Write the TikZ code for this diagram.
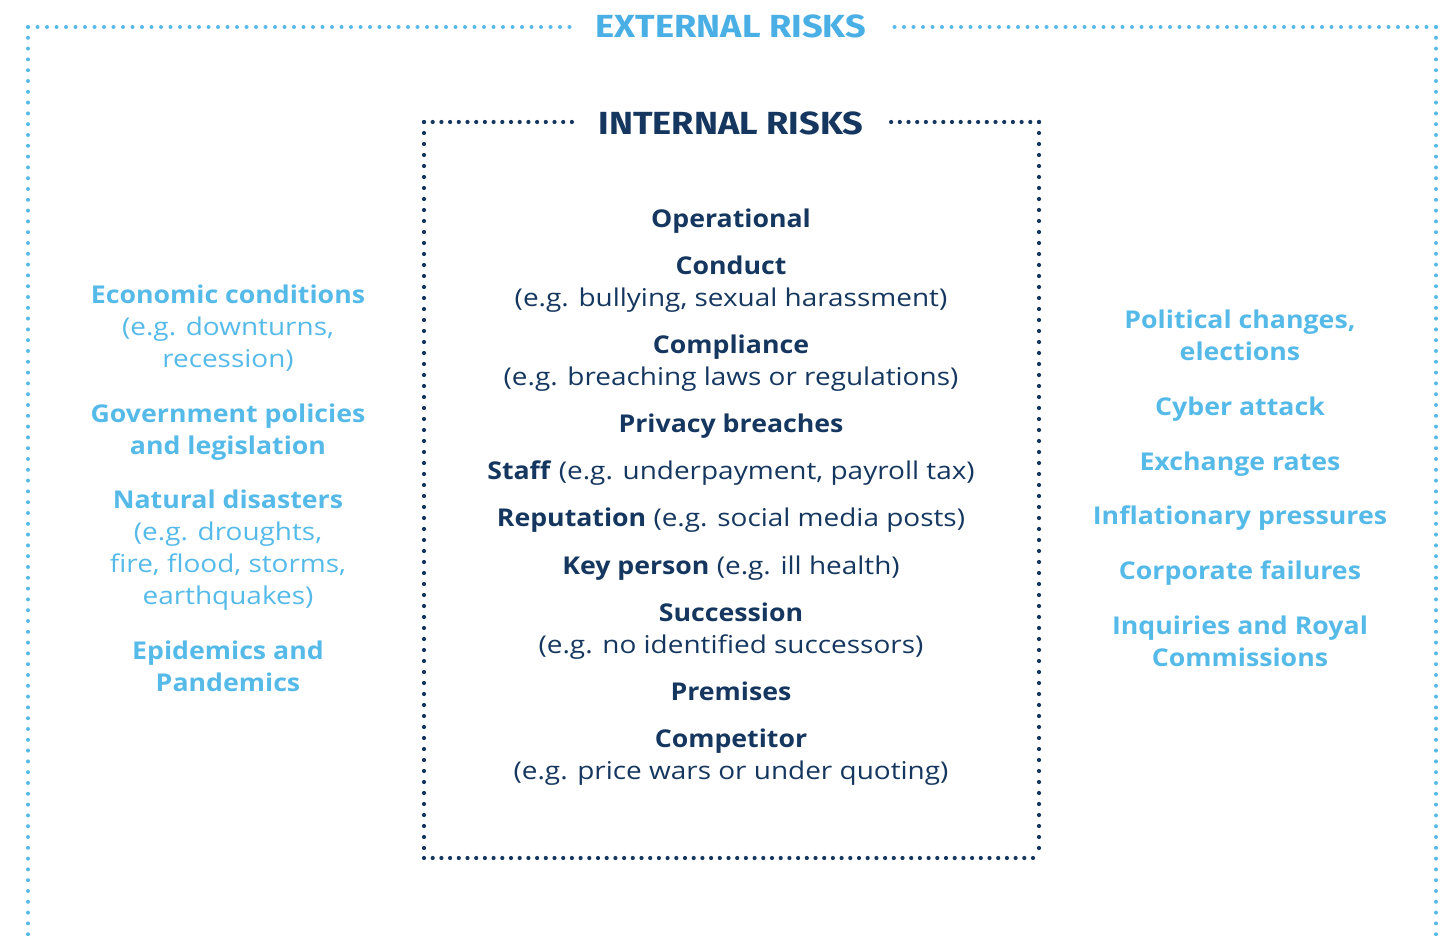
\documentclass[tikz,border=0pt]{standalone}
\usepackage{fontspec}
\setmainfont{Open Sans}[FakeStretch=1.14,BoldFeatures={FakeStretch=1.09}]
\newfontfamily\titlefont{Fira Sans}[FakeStretch=1.13]
\definecolor{lblue}{HTML}{56BAE9}
\definecolor{tblue}{HTML}{4AAFE4}
\definecolor{navy}{HTML}{15375F}
\begin{document}
\begin{tikzpicture}[x=1pt,y=-1pt,
  outerdots/.style={draw=lblue,line width=4pt,line cap=round},
  innerdots/.style={draw=navy,line width=4.2pt,line cap=round},
  hdots/.style={dash pattern=on 0pt off 9.5pt},
  vdots/.style={dash pattern=on 0pt off 10.8pt},
  ihdots/.style={dash pattern=on 0pt off 8.7pt},
  ivdots/.style={dash pattern=on 0pt off 11pt},
  title/.style={font=\titlefont\bfseries\fontsize{32}{35}\selectfont,inner sep=0pt},
  ext/.style={text=lblue,align=center,inner sep=0pt,font=\fontsize{24.5}{32}\selectfont},
  int/.style={text=navy,align=center,inner sep=0pt,font=\fontsize{24.5}{32}\selectfont}
]
\useasboundingbox (0,0) rectangle (1452,936);
% outer frame
\coordinate (oTL) at (28,27);
\coordinate (oTR) at (1436,27);
\coordinate (oBL) at (28,936);
\coordinate (oBR) at (1436,936);
\coordinate (oG1) at (575,27);
\coordinate (oG2) at (887,27);
\node[title,text=tblue] (exttitle) at (731,26) {EXTERNAL RISKS};
\draw[outerdots,hdots] (oTL) -- (oG1);
\draw[outerdots,hdots] (oTR) -- (oG2);
\draw[outerdots,vdots] (oTL) -- (oBL);
\draw[outerdots,vdots] (oTR) -- (oBR);
% inner frame
\coordinate (iTL) at (424,122);
\coordinate (iTR) at (1039,122);
\coordinate (iBL) at (424,858);
\coordinate (iBR) at (1039,858);
\coordinate (iG1) at (574,122);
\coordinate (iG2) at (887,122);
\node[title,text=navy] (inttitle) at (731,123) {INTERNAL RISKS};
\draw[innerdots,ihdots] (iTL) -- (iG1);
\draw[innerdots,ihdots] (iTR) -- (iG2);
\draw[innerdots,ihdots] (iBL) -- (iBR);
\draw[innerdots,ivdots] (iTL) -- (iBL);
\draw[innerdots,ivdots] (iTR) -- (iBR);
% internal risks
\node[int] (i1) at (731,221) {\strut\textbf{Operational}};
\node[int] (i2) at (731,284) {\strut\textbf{Conduct}\\\strut(e.g. bullying, sexual harassment)};
\node[int] (i3) at (731,363) {\strut\textbf{Compliance}\\\strut(e.g. breaching laws or regulations)};
\node[int] (i4) at (731,426) {\strut\textbf{Privacy breaches}};
\node[int] (i5) at (731,473) {\strut\textbf{Staff} (e.g. underpayment, payroll tax)};
\node[int] (i6) at (731,520) {\strut\textbf{Reputation} (e.g. social media posts)};
\node[int] (i7) at (731,568) {\strut\textbf{Key person} (e.g. ill health)};
\node[int] (i8) at (731,631) {\strut\textbf{Succession}\\\strut(e.g. no identified successors)};
\node[int] (i9) at (731,694) {\strut\textbf{Premises}};
\node[int] (i10) at (731,757) {\strut\textbf{Competitor}\\\strut(e.g. price wars or under quoting)};
% external left
\node[ext] (l1) at (228,329) {\strut\textbf{Economic conditions}\\\strut(e.g. downturns,\\\strut recession)};
\node[ext] (l2) at (228,432) {\strut\textbf{Government policies}\\\strut\textbf{and legislation}};
\node[ext] (l3) at (228,550) {\strut\textbf{Natural disasters}\\\strut(e.g. droughts,\\\strut fire, flood, storms,\\\strut earthquakes)};
\node[ext] (l4) at (228,669) {\strut\textbf{Epidemics and}\\\strut\textbf{Pandemics}};
% external right
\node[ext] (r1) at (1240,338) {\strut\textbf{Political changes,}\\\strut\textbf{elections}};
\node[ext] (r2) at (1240,409) {\strut\textbf{Cyber attack}};
\node[ext] (r3) at (1240,464) {\strut\textbf{Exchange rates}};
\node[ext] (r4) at (1240,518) {\strut\textbf{Inflationary pressures}};
\node[ext] (r5) at (1240,573) {\strut\textbf{Corporate failures}};
\node[ext] (r6) at (1240,644) {\strut\textbf{Inquiries and Royal}\\\strut\textbf{Commissions}};
\end{tikzpicture}
\end{document}
